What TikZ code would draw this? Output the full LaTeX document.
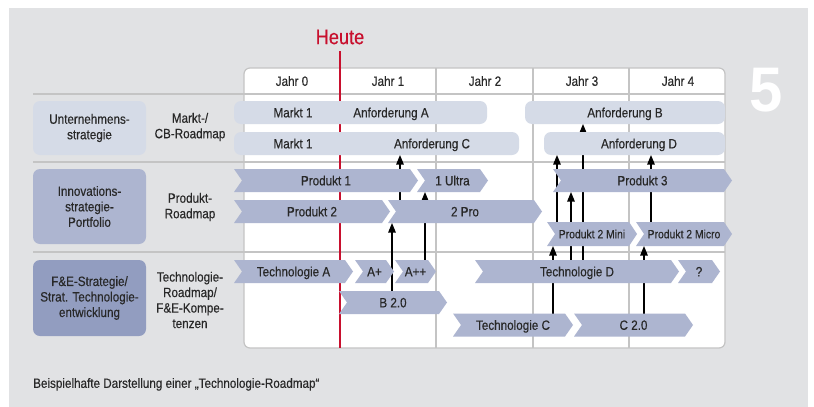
\documentclass[tikz,border=0pt]{standalone}
\usepackage{fontspec}
\setmainfont{Liberation Sans}[FakeStretch=0.865,FakeBold=0.35]
\newfontfamily\fivefont{Liberation Sans}[FakeStretch=0.95]
\usetikzlibrary{arrows.meta}
\definecolor{bgc}{RGB}{225,226,228}
\definecolor{lightc}{RGB}{213,219,231}
\definecolor{midc}{RGB}{173,181,208}
\definecolor{darkc}{RGB}{146,157,192}
\definecolor{gridc}{RGB}{196,196,196}
\definecolor{txtc}{RGB}{40,40,40}
\definecolor{redc}{RGB}{200,16,46}
\pgfdeclarelayer{bg}
\pgfdeclarelayer{arr}
\pgfsetlayers{bg,arr,main}
\begin{document}
\begin{tikzpicture}[x=1pt,y=-1pt,
  txt/.style={text=txtc,font=\fontsize{13.5}{15.5}\selectfont,inner sep=0,align=center},
  one/.style={txt,text height=9.7,text depth=0},
  smalltxt/.style={font=\fontsize{12}{14}\selectfont,text height=8.6},
  lbar/.style={fill=lightc,rounded corners=7,minimum height=23,inner sep=0,outer sep=0},
  chev/.style={one,minimum height=23,outer sep=0,
    path picture={\fill[midc] (path picture bounding box.north west)
      -- ([xshift=-8pt]path picture bounding box.north east)
      -- (path picture bounding box.east)
      -- ([xshift=-8pt]path picture bounding box.south east)
      -- (path picture bounding box.south west)
      -- ([xshift=8pt]path picture bounding box.west) -- cycle;}},
  sidebox/.style={txt,rounded corners=7,minimum width=113},
  gridline/.style={draw=gridc,line width=1.2},
  arr/.style={draw=black,line width=1.1,-{Triangle[length=9.5,width=7.5]}}
]
\useasboundingbox (0,0) rectangle (814,407);

\begin{pgfonlayer}{bg}
  \fill[bgc] (9,8) rectangle (808,407);
  \draw[gridc,fill=white,rounded corners=6,line width=1.2] (244,68) rectangle (725,348);
  \foreach \yy in {94,162,252} \draw[gridline] (33,\yy) -- (725,\yy);
  \foreach \xx in {436,533,629} \draw[gridline] (\xx,68) -- (\xx,348);
  \draw[redc,line width=2] (340,51) -- (340,348);
\end{pgfonlayer}

% title and number
\node[txt,text=redc,font=\fontsize{21}{24}\selectfont] (heute) at (340,37) {Heute};
\node[text=white,font=\fivefont\bfseries\fontsize{63}{63}\selectfont,inner sep=0] (five) at (766,90) {5};

% year headers
\node[one] (y0) at (292,81) {Jahr 0};
\node[one] (y1) at (388,81) {Jahr 1};
\node[one] (y2) at (485,81) {Jahr 2};
\node[one] (y3) at (582,81) {Jahr 3};
\node[one] (y4) at (678,81) {Jahr 4};

% side boxes
\node[sidebox,fill=lightc,minimum height=54] (s1) at (89.5,128) {Unternehmens-\\strategie};
\node[sidebox,fill=midc,minimum height=75] (s2) at (89.5,206.5) {Innovations-\\strategie-\\Portfolio};
\node[sidebox,fill=darkc,minimum height=76] (s3) at (89.5,298) {F\&E-Strategie/\\Strat. Technologie-\\entwicklung};

% middle labels
\node[txt] (m1) at (190,127) {Markt-/\\CB-Roadmap};
\node[txt] (m2) at (190,207) {Produkt-\\Roadmap};
\node[txt] (m3) at (190,300) {Technologie-\\Roadmap/\\F\&E-Kompe-\\tenzen};

% row 1: market bars
\node[lbar,minimum width=253] (barA) at (360.5,112.5) {};
\node[lbar,minimum width=200] (barB) at (625,112.5) {};
\node[lbar,minimum width=285] (barC) at (376.5,143.5) {};
\node[lbar,minimum width=181] (barD) at (634.5,143.5) {};
\node[one] (tA1) at (293,112.5) {Markt 1};
\node[one] (tA2) at (391,112.5) {Anforderung A};
\node[one] (tB) at (625,112.5) {Anforderung B};
\node[one] (tC1) at (293,143.5) {Markt 1};
\node[one] (tC2) at (432,143.5) {Anforderung C};
\node[one] (tD) at (639,143.5) {Anforderung D};

% row 2: products
\node[chev,minimum width=184] (prod1) at (326,180.5) {Produkt 1};
\node[chev,minimum width=71] (ultra) at (452.5,180.5) {1 Ultra};
\node[chev,minimum width=179] (prod3) at (642.5,180.5) {Produkt 3};
\node[chev,minimum width=156] (prod2) at (312,211.5) {Produkt 2};
\node[chev,minimum width=154] (pro2) at (465,211.5) {2 Pro};
\node[chev,smalltxt,minimum width=90,minimum height=24] (mini) at (592,234) {Produkt 2 Mini};
\node[chev,smalltxt,minimum width=96,minimum height=24] (micro) at (684,234) {Produkt 2 Micro};

% row 3: technologies
\node[chev,minimum width=119] (techA) at (293.5,271.5) {Technologie A};
\node[chev,minimum width=39] (aplus) at (374.5,271.5) {A+};
\node[chev,minimum width=41] (aplusplus) at (415.5,271.5) {A++};
\node[chev,minimum width=204] (techD) at (577,271.5) {Technologie D};
\node[chev,minimum width=42] (quest) at (699,271.5) {?};
\node[chev,minimum width=108] (b20) at (393,302.5) {B 2.0};
\node[chev,minimum width=120] (techC) at (513,325) {Technologie C};
\node[chev,minimum width=119] (c20) at (633.5,325) {C 2.0};

% caption
\node[one,anchor=west] (cap) at (33,383) {Beispielhafte Darstellung einer „Technologie-Roadmap“};

% connectors
\begin{pgfonlayer}{arr}
  \draw[arr] (pro2.north -| 400,0) -- (barC.south -| 400,0);
  \draw[arr] (aplusplus.north -| 425,0) -- (ultra.south -| 425,0);
  \draw[arr] (b20.north -| 392,0) -- (pro2.south -| 392,0);
  \draw[arr] (mini.north -| 557,0) -- (barD.south -| 557,0);
  \draw[arr] (techD.north -| 583,0) -- (barB.south -| 583,0);
  \draw[arr] (techD.north -| 571,0) -- (prod3.south -| 571,0);
  \draw[arr] (techC.north -| 553,0) -- (mini.south -| 553,0);
  \draw[arr] (c20.north -| 644,0) -- (micro.south -| 644,0);
  \draw[arr] (micro.north -| 651,0) -- (barD.south -| 651,0);
\end{pgfonlayer}
\end{tikzpicture}
\end{document}
